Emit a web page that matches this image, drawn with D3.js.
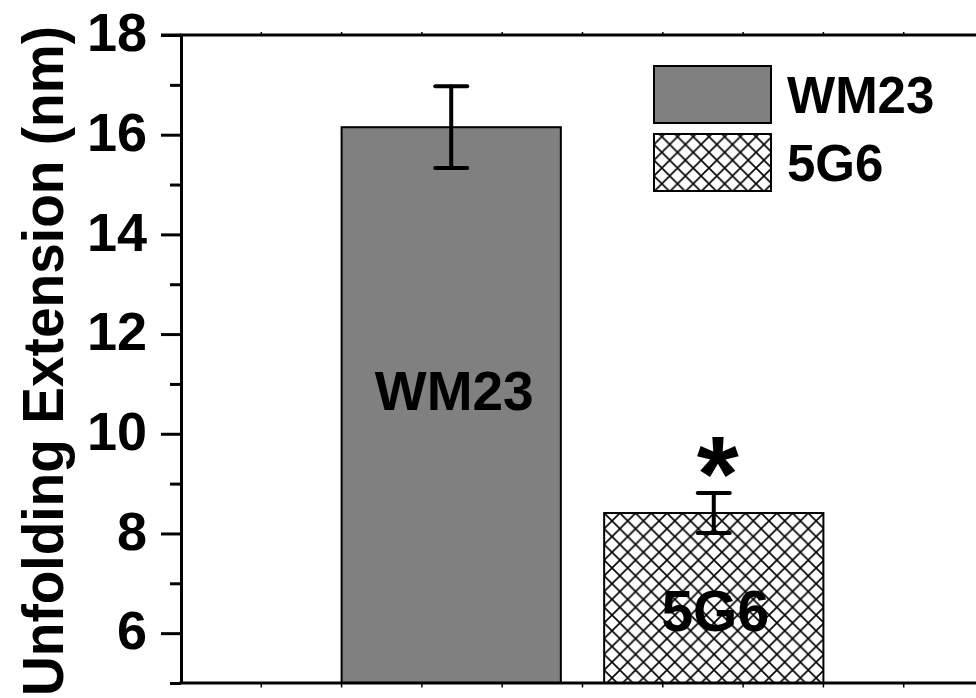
<!DOCTYPE html>
<html>
<head>
<meta charset="utf-8">
<script src="https://cdn.jsdelivr.net/npm/d3@7.9.0/dist/d3.min.js"></script>
<style>
  html, body { margin: 0; padding: 0; background: #fff; }
  svg { display: block; }
  text { font-family: 'Liberation Sans', Arial, sans-serif; font-weight: bold; fill: #000; }
</style>
</head>
<body>
<svg id="chart" width="976" height="698"></svg>
<script>
// data
const categories = ['WM23', '5G6'];
const means = [16.15, 8.41];
const errors = [0.82, 0.40];
const fills = ['gray', 'hatch'];
const yMajorTicks = [6, 8, 10, 12, 14, 16, 18];
const yMinorTicks = [5, 7, 9, 11, 13, 15, 17];
const yTitle = 'Unfolding Extension (nm)';

const svg = d3.select('#chart');
svg.append('rect').attr('width', 976).attr('height', 698).attr('fill', '#fff');

// plot frame
const plotL = 181, plotT = 35, plotB = 683, plotR = 984;

const y = d3.scaleLinear().domain([5, 18]).range([plotB, plotT]);
// frame axis runs 0..10, bars sit between frame ticks 2 and 8
const xFrame = d3.scaleLinear().domain([0, 10]).range([plotL, plotR]);
const x = d3.scaleBand()
  .domain(categories)
  .range([xFrame(2), xFrame(8)])
  .paddingInner(0.165)
  .paddingOuter(0);

// hatch pattern
const P = 15.7;
const defs = svg.append('defs');
function makeHatch(id, ox, oy) {
  const pat = defs.append('pattern')
    .attr('id', id)
    .attr('patternUnits', 'userSpaceOnUse')
    .attr('x', ox).attr('y', oy)
    .attr('width', P).attr('height', P);
  pat.append('rect').attr('width', P).attr('height', P).attr('fill', '#fff');
  pat.append('path')
    .attr('d', `M0,0L${P},${P}M${P},0L0,${P}`)
    .attr('stroke', '#000')
    .attr('stroke-width', 1.6)
    .attr('fill', 'none');
}
makeHatch('hatchBar', x('5G6'), y(means[1]));
makeHatch('hatchLegend', 654, 66);

// bars
const bars = categories.map((c, i) => ({ c, m: means[i], e: errors[i], f: fills[i] }));

svg.selectAll('rect.bar')
  .data(bars)
  .join('rect')
  .attr('class', 'bar')
  .attr('x', d => x(d.c))
  .attr('y', d => y(d.m))
  .attr('width', x.bandwidth())
  .attr('height', d => y(5) - y(d.m))
  .attr('fill', d => d.f === 'gray' ? '#808080' : 'url(#hatchBar)')
  .attr('stroke', '#000')
  .attr('stroke-width', 2);

// error bars
const capW = 32;
const eb = svg.selectAll('g.err')
  .data(bars)
  .join('g')
  .attr('class', 'err')
  .attr('stroke', '#000')
  .attr('stroke-width', 4)
  .attr('stroke-linecap', 'round');
eb.append('line')
  .attr('x1', d => x(d.c) + x.bandwidth() / 2)
  .attr('x2', d => x(d.c) + x.bandwidth() / 2)
  .attr('y1', d => y(d.m + d.e))
  .attr('y2', d => y(d.m - d.e));
eb.append('line')
  .attr('x1', d => x(d.c) + x.bandwidth() / 2 - capW / 2)
  .attr('x2', d => x(d.c) + x.bandwidth() / 2 + capW / 2)
  .attr('y1', d => y(d.m + d.e))
  .attr('y2', d => y(d.m + d.e));
eb.append('line')
  .attr('x1', d => x(d.c) + x.bandwidth() / 2 - capW / 2)
  .attr('x2', d => x(d.c) + x.bandwidth() / 2 + capW / 2)
  .attr('y1', d => y(d.m - d.e))
  .attr('y2', d => y(d.m - d.e));

// labels inside bars
svg.append('text')
  .attr('x', x('WM23') + x.bandwidth() / 2 + 3)
  .attr('y', 410)
  .attr('text-anchor', 'middle')
  .attr('font-size', 55)
  .text('WM23');
svg.append('text')
  .attr('x', x('5G6') + x.bandwidth() / 2 + 1.5)
  .attr('y', 631)
  .attr('text-anchor', 'middle')
  .attr('font-size', 57)
  .text('5G6');

// significance star
svg.append('text')
  .attr('x', x('5G6') + x.bandwidth() / 2 + 4)
  .attr('y', 511)
  .attr('text-anchor', 'middle')
  .attr('font-size', 108)
  .text('*');

// y axis
const axisMajor = d3.axisLeft(y)
  .tickValues(yMajorTicks)
  .tickSize(20)
  .tickSizeOuter(0)
  .tickPadding(14)
  .tickFormat(d3.format('d'));
const gMajor = svg.append('g')
  .attr('transform', `translate(${plotL},0)`)
  .call(axisMajor);
gMajor.selectAll('line').attr('stroke', '#000').attr('stroke-width', 3);
gMajor.select('.domain').attr('stroke', '#000').attr('stroke-width', 3);
gMajor.selectAll('text')
  .attr('font-size', 54)
  .attr('font-family', "'Liberation Sans', Arial, sans-serif")
  .attr('font-weight', 'bold')
  .attr('fill', '#000')
  .attr('dy', '0.29em');

const gMinor = svg.append('g')
  .attr('transform', `translate(${plotL},0)`)
  .call(d3.axisLeft(y).tickValues(yMinorTicks).tickSize(11).tickSizeOuter(0).tickFormat(''));
gMinor.select('.domain').remove();
gMinor.selectAll('line').attr('stroke', '#000').attr('stroke-width', 3);

// top and bottom frame lines with small ticks
[plotT, plotB].forEach((yy, k) => {
  const len = k === 0 ? -1.5 : 3;
  svg.append('line')
    .attr('x1', plotL - 1.5).attr('x2', plotR)
    .attr('y1', yy).attr('y2', yy)
    .attr('stroke', '#000').attr('stroke-width', 3);
  svg.selectAll(null)
    .data(xFrame.ticks(10).slice(1))
    .join('line')
    .attr('x1', d => xFrame(d)).attr('x2', d => xFrame(d))
    .attr('y1', yy).attr('y2', yy + len + (len > 0 ? 1.5 : -1.5))
    .attr('stroke', '#000').attr('stroke-width', 1.5);
});
// the 18 tick joins the top line
svg.append('line')
  .attr('x1', plotL - 20).attr('x2', plotL)
  .attr('y1', plotT).attr('y2', plotT)
  .attr('stroke', '#000').attr('stroke-width', 3);

// y title
svg.append('text')
  .attr('transform', `translate(63,${(plotT + plotB) / 2 + 2}) rotate(-90) scale(0.95,1)`)
  .attr('text-anchor', 'middle')
  .attr('font-size', 58)
  .text(yTitle);

// legend
const legend = svg.append('g');
categories.forEach((c, i) => {
  const ly = 66 + i * 68;
  legend.append('rect')
    .attr('x', 654).attr('y', ly)
    .attr('width', 117).attr('height', 57)
    .attr('fill', fills[i] === 'gray' ? '#808080' : 'url(#hatchLegend)')
    .attr('stroke', '#000').attr('stroke-width', 2);
  legend.append('text')
    .attr('x', 787).attr('y', ly + 47)
    .attr('font-size', 51)
    .text(c);
});
</script>
</body>
</html>
